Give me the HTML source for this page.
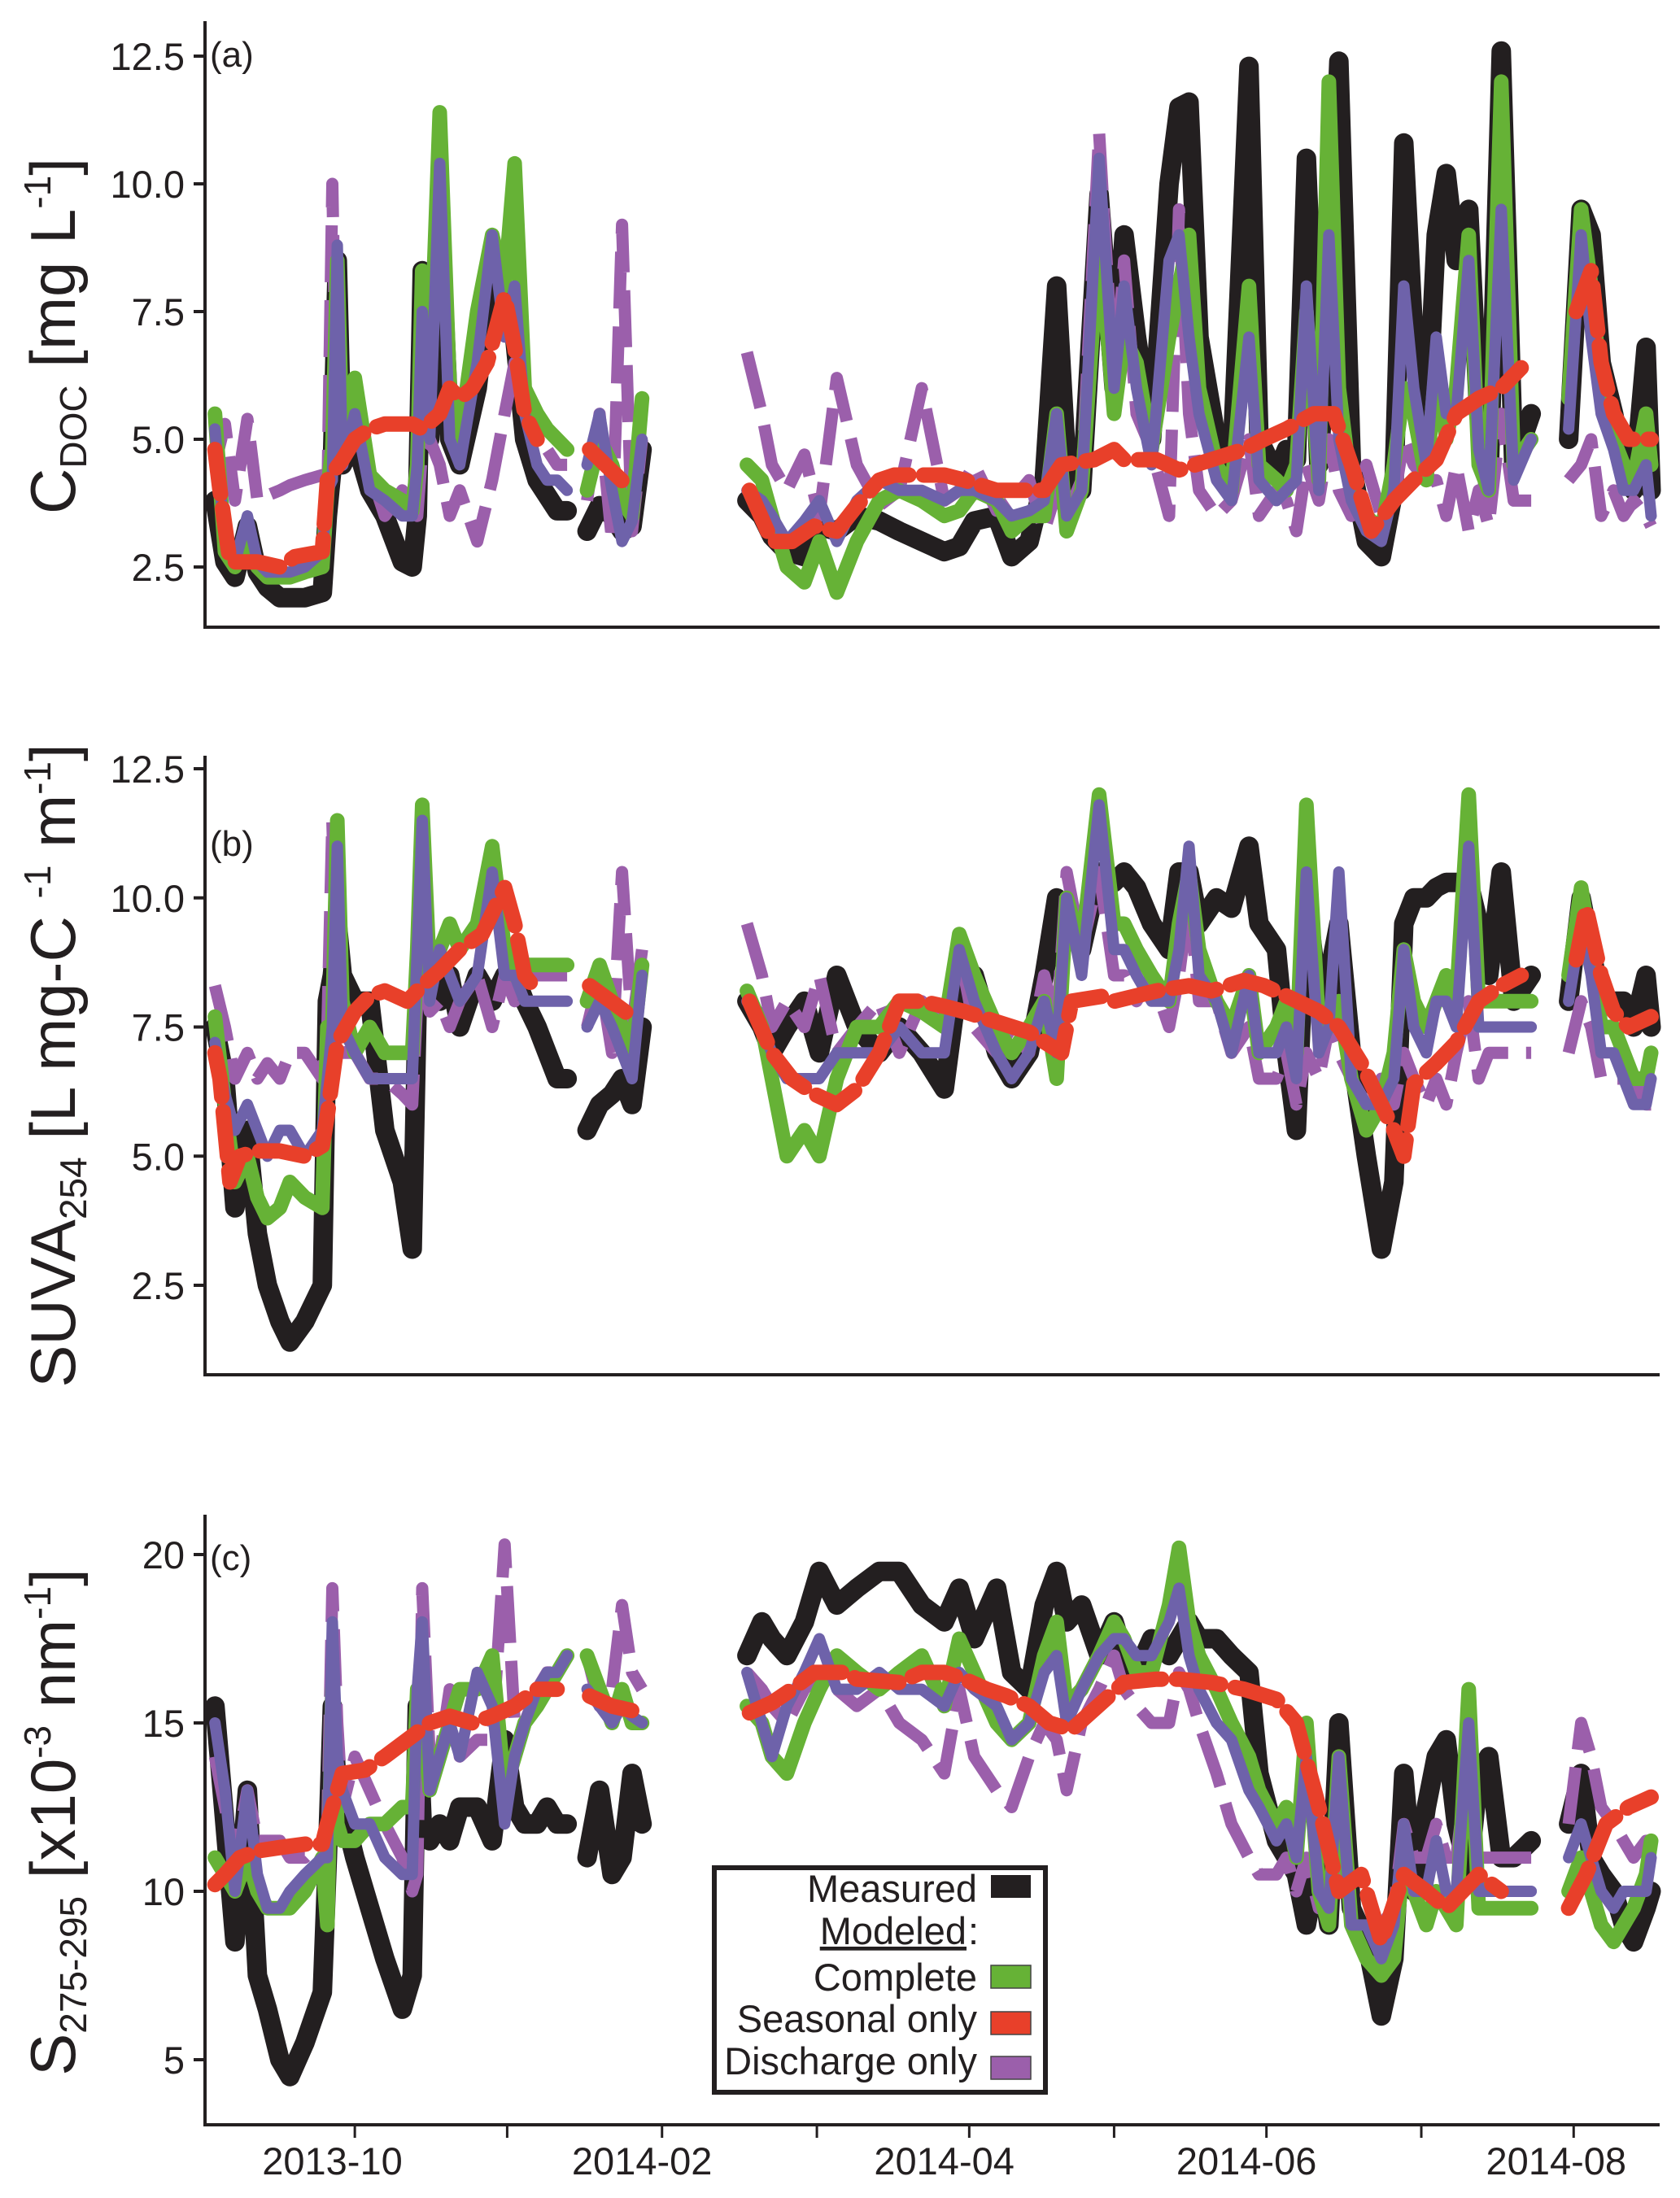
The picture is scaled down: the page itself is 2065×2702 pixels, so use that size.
<!DOCTYPE html>
<html><head><meta charset="utf-8"><style>
body{margin:0;background:#fff}
svg{display:block}
text{font-family:"Liberation Sans",sans-serif;fill:#231f20}
</style></head><body>
<svg id="chart" width="2065" height="2702" viewBox="0 0 2065 2702" xmlns="http://www.w3.org/2000/svg">
<g id="layers"></g>
</svg>
<script>
// shared time axis (days since start), null values mark gaps
const days=[3,7,11,16,20,24,29,33,39,46,48,50,52,54,59,65,71,78,82,84,86,89,93,97,101,108,114,119,123,127,132,136,140,144,148,
152,157,162,166,170,174,195,
216,222,226,232,239,245,252,260,269,277,286,295,301,307,316,322,329,335,340,344,350,357,363,367,372,378,385,389,393,397,404,410,417,421,428,432,436,440,445,449,453,458,464,470,475,479,483,488,492,496,500,505,509,513,518,523,530,538,
545,550,554,558,563,567,571,576,578];
const N=null;
// Panel a: CDOC
const aMeasured=[3.8,2.6,2.3,3.3,2.4,2.1,1.9,1.9,1.9,2.0,3.5,4.5,8.5,4.5,5.0,4.0,3.5,2.6,2.5,3.5,8.3,5,9.5,5,4.5,6,8.5,7.5,7,5,4.2,3.9,3.6,3.6,N,
3.2,3.7,3.5,3.2,3.3,4.8,N,
3.8,3.5,3.1,2.8,2.7,3.3,3.2,3.5,3.4,3.2,3.0,2.8,2.9,3.4,3.5,2.7,3.0,4.2,8.0,4.5,4.0,9.8,6.0,9.0,7.0,5.0,10,11.5,11.6,7.0,5.0,4.4,12.3,5.0,4.3,4.8,4.6,10.5,4.5,7.5,12.4,4.5,3.0,2.7,4,10.8,7,5,9,10.2,8.5,9.5,5.5,4.0,12.6,4.5,5.5,N,
5,9.5,9,6.5,5.5,4.5,4.0,6.8,4];
const aComplete=[5.5,2.8,2.5,3.0,2.5,2.3,2.3,2.3,2.4,2.5,4.0,4.8,8.5,5,6.2,4.3,4.0,3.8,3.6,4.5,8.3,6,11.4,6,5,7.5,9,8,10.4,6,5.5,5.2,5.0,4.8,N,
4.0,5.0,4.5,3.8,3.5,5.8,N,
4.5,4.2,3.5,2.5,2.2,3.0,2.0,3.0,3.8,4.0,3.8,3.5,3.6,4.0,3.8,3.2,3.5,3.5,5.5,3.2,4.0,9.0,5.5,7.0,6.5,4.8,7,8,9,6,4.5,4.0,8,4.5,4.2,4.0,4.5,7.5,4.2,12.0,6,4.0,3.5,3.2,4.5,6,5.5,4.2,6.5,5,6,9,4.5,4.0,12.0,4.5,5.0,N,
5.8,9.5,8,6,5,4.5,4.2,5.5,4.5];
const aBlend=[5.2,3.0,2.6,3.5,2.6,2.4,2.4,2.4,2.5,2.8,4.0,4.2,8.8,4.5,5.5,4.0,3.8,3.5,3.5,4.5,7.5,5,10.4,5,4.5,6.5,9,7,8,5.5,4.5,4.2,4.2,4.0,N,
4.5,5.5,4.0,3.0,3.4,5.0,N,
4.0,3.8,3.5,3.0,3.4,3.8,3.0,3.8,4.2,4.0,4.0,3.8,4.0,4.0,3.8,3.5,3.6,3.8,5.5,3.5,4.0,10.5,6,8,6,4.5,8.5,9,7,5.5,4.2,3.8,7,4.2,3.8,4.0,4.2,8,4.0,9,5,3.8,3.2,3.0,4,8,6,4.5,7,5.5,5.5,8.5,4.8,4.0,9.5,4.2,5.0,N,
5.2,9,7,5.5,4.8,4,4.0,4.5,3.5];
const aDischarge=[4.5,5.3,3.8,5.4,3.8,3.9,4.0,4.1,4.2,4.3,3.8,10.0,4.5,4.5,5.5,4.4,3.5,4.0,3.6,3.5,4.8,5,4.5,3.5,4.0,3.0,4.2,5.5,6.5,5.8,5,4.8,4.5,4.5,N,
3.8,5.5,3.0,9.2,3.2,5.0,N,
6.7,5.5,4.5,4.0,4.7,3.5,6.2,4.5,3.7,4.0,6.0,3.8,4.0,4.5,3.6,3.8,4.2,3.2,4.0,3.5,4.2,11.0,6.0,8.5,5.5,4.8,3.5,9.5,5.5,4.0,3.5,3.8,5.0,3.5,4.0,3.8,3.2,4.5,3.8,5.0,4.0,3.5,4.5,3.5,3.8,5.0,4.5,4.2,4.2,3.5,4.5,3.2,4.0,3.3,5.5,3.8,3.8,N,
4.2,4.5,5,3.5,4.0,3.5,3.8,3.5,3.3];
const aSeasDays=[3,5,9,20,29,35,46,48,54,59,65,71,82,86,93,97,101,106,112,119,123,127,132,148,153,170,195,217,226,234,243,252,260,269,275,286,295,303,316,329,335,342,355,363,367,380,389,402,415,423,432,443,451,458,466,475,483,492,500,509,518,526,538,548,554,558,563,569,578];
const aSeasonal=[4.8,4.0,2.6,2.6,2.5,2.7,2.8,4.2,4.6,5.0,5.2,5.3,5.3,5.2,5.5,6.0,5.8,6.0,6.5,7.8,6.8,5.5,5.0,N,4.8,4.0,N,4.0,3.0,3.0,3.3,3.2,3.7,4.2,4.3,4.3,4.3,4.2,4.0,4.0,4.0,4.5,4.6,4.8,4.6,4.6,4.4,4.6,4.8,5.0,5.2,5.5,5.5,4.5,3.2,3.8,4.2,4.6,5.5,5.8,6.0,6.4,N,7.5,8.3,6.5,5.5,5.0,5.0];
// Panel b: SUVA254
const bMeasured=[7.5,6.5,4.0,5.5,3.5,2.5,1.8,1.4,1.8,2.5,8.0,8.5,9.5,8.5,8,8.0,5.5,4.5,3.2,8.0,9.5,8.5,8.0,8.5,7.5,8.5,8.0,8.5,8.5,8.0,7.5,7.0,6.5,6.5,N,
5.5,6.0,6.2,6.5,6.0,7.5,N,
8.0,7.5,7.0,7.5,8.0,7.0,8.5,7.5,7.0,7.5,7.0,6.3,8.5,8.5,7.0,6.5,7.0,8.5,10.0,9.5,9.0,10.5,10.3,10.5,10.2,9.5,9.0,10.5,10.5,9.5,10,9.8,11.0,9.5,9.0,7.0,5.5,10.0,8.0,8.5,9.5,7.0,5.0,3.2,4.5,9.5,10.0,10.0,10.2,10.3,10.3,10.3,9.5,8.5,10.5,8.0,8.5,N,
8.0,10.0,9.0,8.0,8.0,8.0,7.5,8.5,7.5];
const bComplete=[7.7,6.0,4.5,5.0,4.2,3.8,4.0,4.5,4.2,4.0,7.5,7.5,11.5,8,7,7.5,7,7,7,9,11.8,8.5,9,9.5,9,9.5,11,9,8.5,8.7,8.7,8.7,8.7,8.7,N,
8.0,8.7,8.0,7.5,7.0,8.7,N,
8.2,7.5,6.5,5.0,5.5,5.0,6.5,7.5,7.5,8.0,7.8,7.5,9.3,8.5,7.5,7.0,7.5,8.0,6.5,10.0,9.0,12.0,9.5,9.5,9.0,8.5,8.0,9.5,10.5,9.0,8,7.5,8.5,7.0,7.5,8.0,7.0,11.8,7.5,7.5,8.0,6.5,5.5,6.0,7.0,9.0,8.0,7.5,8.0,8.5,8.0,12.0,8.0,8.0,8.0,8.0,8.0,N,
8.5,10.2,9,7.5,7.5,7,6.5,6.5,7];
const bBlend=[7.2,6.2,5.5,6.0,5.5,5.0,5.5,5.5,5.0,5.5,6.5,7.5,11,7.5,7,6.5,6.5,6.5,6.5,9,11.5,8,9,8.5,8,8.5,10.5,8.5,8.5,8,8,8,8,8,N,
7.5,8.0,7.5,7.0,6.5,8.5,N,
8.0,7.5,7.0,6.5,6.5,6.5,7.0,7.0,7.0,7.5,7.0,7.0,9.0,8.0,7.0,6.5,7.0,8.0,7.0,10.0,8.5,11.8,9,9,8.5,8,8,9,11,8.5,8,7,8.5,7,7,7.5,6.5,10.5,7,7.5,10.5,6.5,6.0,6.0,6.5,9,7.5,7,8,8,7.5,11,7.5,7.5,7.5,7.5,7.5,N,
8,9.5,8.5,7,7,6.5,6,6,6.5];
const bDischarge=[8.3,7.5,6.5,7.0,6.5,6.8,6.5,7.0,7.0,6.5,7.5,11.5,8,7,7,6.5,6.5,6.2,6.0,8.0,8.5,7.8,8,7.5,8.0,8.5,7.5,8.5,8.0,8.5,8.5,8.5,8.5,8.5,N,
7.5,8.5,7.0,10.5,7.5,9.0,N,
9.5,8.5,7.5,8.0,7.5,8.5,7.0,7.5,8.0,7.0,8.0,7.5,9.0,7.5,7.0,7.5,7.0,8.5,7.5,10.5,9.0,10.5,8.5,8.5,8.0,8.5,7.5,8.5,10.0,8,8.0,7.0,7.5,6.5,6.5,7.0,6.0,7.0,6.5,7.5,7.0,6.5,6.0,6.5,6.0,7.0,6.5,6.0,6.5,6.0,7.0,8.0,6.5,7.0,7.0,7.0,7.0,N,
7.0,8.0,7.5,6.5,6.5,6.5,6.5,6.0,6.0];
const bSeasDays=[3,5,9,13,20,29,39,46,48,52,59,65,71,80,86,93,101,110,119,123,127,132,148,153,170,195,217,226,234,243,252,260,269,277,286,295,303,316,329,342,346,359,363,380,393,402,415,423,432,445,453,462,470,475,479,483,492,500,509,518,526,538,548,552,558,563,569,578];
const bSeasonal=[7.0,6.5,4.5,5.0,5.1,5.1,5.0,5.2,5.8,7.2,7.8,8.1,8.2,8.0,8.3,8.6,9.0,9.3,10.2,9.5,8.5,8.2,N,8.3,7.7,N,8.0,7.0,6.5,6.2,6.0,6.3,7.0,8.0,8.0,7.9,7.8,7.6,7.4,7.0,8.0,8.1,8.0,8.2,8.3,8.2,8.4,8.3,8.1,7.8,7.5,6.8,6.0,5.5,5.0,6.4,6.8,7.2,8.0,8.3,8.5,N,8.8,9.8,8.5,7.8,7.5,7.7];
// Panel c: S275-295
const cMeasured=[15.5,12,8.5,13,7.5,6.5,5.0,4.5,5.5,7.0,11,15.5,13,12.5,11,9.5,8,6.5,7.5,15.5,12,11.5,12,11.5,12.5,12.5,11.5,14.5,12.5,12.0,12.0,12.5,12.0,12.0,N,
11.0,13.0,10.5,11,13.5,12,N,
17,18,17.5,17,18,19.5,18.5,19,19.5,19.5,18.5,18,19,17.5,19,16.5,16,18.5,19.5,18,18.5,17,18,17,16.5,17.5,17,17.5,18,17.5,17.5,17,16.5,13.5,11.5,11,10.5,9,11,9,15,9.5,8.5,6.3,8,13.5,10,12.5,14,14.5,12,10.5,13.5,14,11,11,11.5,N,
12,13.5,11,10.5,10,9,8.5,9.5,10];
const cComplete=[11,10.5,10,11,10,9.5,9.5,9.5,10,11,9,16,12,11.5,11.5,12,12,12.5,12.5,16,16,13,14,15,16,16,17.0,13,14,15,15.5,16,16.5,17,N,
17,16,15,16,15,15,N,
15.5,15,14,13.5,15,16,17,16.5,16,16.5,17,15.5,17.5,16.5,15,14.5,15,17,18,15.5,16,17,18,17.5,16.5,16.5,18.5,20.2,18,17,16,15,14,13,12,12.5,11,15,10,9,14,9,8,7.5,8,11,10,9,10,9.5,9,16,9.5,9.5,9.5,9.5,9.5,N,
10,11,10,9,8.5,9,9.5,10.5,11.5];
const cBlend=[15,13,10,13,10.5,9.5,9.5,10,10.5,11,11,18,14,13,12,12,11,10.5,10.5,16,18,13,14,15,14,16.5,15.5,12,14,15,16,16.5,16.5,17,N,
16,15.5,15,15.5,15.2,15,N,
16.5,15,14,15.5,16.5,17.5,16,16,16.5,16,16,15.5,16.5,16,15.5,14.5,15,16.5,17,15,16,17,17.5,17.5,17,17,18,19,17,16,15,14.5,13,12.5,11.5,12,11,14,10,9.5,14,9,9,8,9,12,10,10,11.5,10,10,15,10,10,10,10,10,N,
11,12,11,10,9.5,10,10,10,11];
const cDischarge=[14,12.5,11,13,11.5,11.5,11.5,11,11,11.5,12,19,15,12.5,14,13,12,11,10,10.5,19,14,14,16,14,14.5,14.5,20.3,15,15,16,16.5,16.5,17,N,
17,15.5,16,18.5,16.5,16,N,
16.5,16,15.5,15,16,16.5,16,15.5,16,15,14.5,13.5,16,14,13,12.5,14,15,14.5,13,15,16,17,16,15.5,15,15,16.5,16,15,13.5,12,11,10.5,10.5,11,10,11,9.5,9.5,11,9.5,9.5,9,9.5,12,11,11,12,11,11,14,11,11,11,11,11,N,
12,15,14,12.5,12,11.5,11,11.5,11.5];
const cSeasDays=[3,7,13,20,29,39,46,48,54,63,71,80,89,97,106,114,123,132,140,148,153,162,174,195,217,226,234,243,256,260,277,286,295,303,312,320,329,337,346,367,380,389,402,415,428,436,445,453,462,470,479,488,496,509,518,538,545,552,560,569,578];
const cSeasonal=[10.2,10.5,11.0,11.2,11.3,11.4,11.4,12.0,13.5,13.6,14.0,14.5,15.0,15.2,15.0,15.2,15.5,16.0,16.0,N,15.8,15.5,15.3,N,15.3,15.6,16.0,16.5,16.5,16.3,16.2,16.5,16.5,16.3,16.0,15.8,15.5,15.0,14.8,16.2,16.3,16.3,16.2,16.0,15.7,15.0,12.5,10.0,10.5,8.5,10.5,10.0,9.5,10.5,10.0,N,9.5,10.5,12.0,12.5,12.8];
const yTicksA=[2.5,5.0,7.5,10.0,12.5], yTicksB=[2.5,5.0,7.5,10.0,12.5], yTicksC=[5,10,15,20];
const xTickDays=[59,120,182,244,305,363,424,486,547];
const xLabelDays=[50,174,295,416,540];
const xLabels=["2013-10","2014-02","2014-04","2014-06","2014-08"];

const NS="http://www.w3.org/2000/svg";
const root=document.getElementById('layers');
const X=d=>255+d*3.07;
function mk(tag,attrs,parent){const e=document.createElementNS(NS,tag);for(const k in attrs)e.setAttribute(k,attrs[k]);(parent||root).appendChild(e);return e;}
function pathD(ds,vs,Y){let d="",pen=false;for(let i=0;i<ds.length;i++){const v=vs[i];if(v===null||v===undefined){pen=false;continue;}d+=(pen?"L":"M")+X(ds[i]).toFixed(1)+" "+Y(v).toFixed(1);pen=true;}return d;}
const panels=[
 {id:'a',Y:v=>697-(v-2.5)*62.8,top:26,bot:771,ticks:yTicksA,fmt:v=>v.toFixed(1),s:[aMeasured,aComplete,aBlend,aDischarge],sd:aSeasDays,sv:aSeasonal},
 {id:'b',Y:v=>1580-(v-2.5)*63.5,top:929,bot:1690,ticks:yTicksB,fmt:v=>v.toFixed(1),s:[bMeasured,bComplete,bBlend,bDischarge],sd:bSeasDays,sv:bSeasonal},
 {id:'c',Y:v=>2532-(v-5)*41.4,top:1862,bot:2612,ticks:yTicksC,fmt:v=>String(v),s:[cMeasured,cComplete,cBlend,cDischarge],sd:cSeasDays,sv:cSeasonal}
];
panels.forEach(p=>{
  const g=mk('g',{});
  
  
  const styles=[
    {i:0,c:'#231f20',w:24,da:null,n:'measured-series'},
    {i:3,c:'#9b5fab',w:15,da:'70 22',n:'discharge-only-series'},
    {i:1,c:'#66b236',w:18,da:null,n:'complete-series'},
    {i:2,c:'#6e62aa',w:14,da:null,n:'complete-discharge-blend-series'}
  ];
  styles.forEach(st=>{
    const e=mk('path',{d:pathD(days,p.s[st.i],p.Y),fill:'none',stroke:st.c,'stroke-width':st.w,'stroke-linejoin':'round','stroke-linecap':st.da?'butt':'round'},g);
    if(st.da)e.setAttribute('stroke-dasharray',st.da);
    
    
  });
  const r=mk('path',{d:pathD(p.sd,p.sv,p.Y),fill:'none',stroke:'#e8402a','stroke-width':19,'stroke-dasharray':'55 18','stroke-linecap':'round','stroke-linejoin':'round'},g);
  
  
  const ax=mk('path',{d:`M252 ${p.top}V${p.bot}H2040`,fill:'none',stroke:'#231f20','stroke-width':4},g);
  
  
  p.ticks.forEach(v=>{
    const y=p.Y(v);
    const t=mk('line',{x1:238,x2:252,y1:y,y2:y,stroke:'#231f20','stroke-width':4},g);
    
    
    const l=mk('text',{x:227,y:y+17,'text-anchor':'end','font-size':47},g);
    l.textContent=p.fmt(v);
    
    
  });
  const pl=mk('text',{x:258,y:p.id==='b'?1052:(p.id==='a'?82:1930),'font-size':44},g);
  pl.textContent='('+p.id+')';
  
  
});
xTickDays.forEach(d=>{
  const t=mk('line',{x1:X(d),x2:X(d),y1:2612,y2:2628,stroke:'#231f20','stroke-width':3});
  
  
});
xLabelDays.forEach((d,i)=>{
  const t=mk('text',{x:X(d),y:2673,'text-anchor':'middle','font-size':47});
  t.textContent=xLabels[i];
  
  
});
</script>
<div style="position:absolute;left:0;top:0;width:2065px;height:2702px;pointer-events:none">
<svg width="2065" height="2702" style="position:absolute;left:0;top:0">
<g transform="translate(92,413) rotate(-90)"><text text-anchor="middle" font-size="78" font-family="Liberation Sans, sans-serif" fill="#231f20">C<tspan font-size="46" dy="14">DOC</tspan><tspan dy="-14"> [mg L</tspan><tspan font-size="46" dy="-30">-1</tspan><tspan dy="30">]</tspan></text></g>
<g transform="translate(92,1310) rotate(-90)"><text text-anchor="middle" font-size="78" font-family="Liberation Sans, sans-serif" fill="#231f20">SUVA<tspan font-size="46" dy="14">254</tspan><tspan dy="-14"> [L mg-C </tspan><tspan font-size="46" dy="-30">-1</tspan><tspan dy="30"> m</tspan><tspan font-size="46" dy="-30">-1</tspan><tspan dy="30">]</tspan></text></g>
<g transform="translate(92,2240) rotate(-90)"><text text-anchor="middle" font-size="78" font-family="Liberation Sans, sans-serif" fill="#231f20">S<tspan font-size="46" dy="14">275-295</tspan><tspan dy="-14"> [x10</tspan><tspan font-size="46" dy="-30">-3</tspan><tspan dy="30"> nm</tspan><tspan font-size="46" dy="-30">-1</tspan><tspan dy="30">]</tspan></text></g>
<g font-family="Liberation Sans, sans-serif" font-size="47">
<rect x="878" y="2296" width="407" height="276" fill="#fff" stroke="#231f20" stroke-width="6"/>
<text x="1201" y="2338" text-anchor="end" fill="#000">Measured</text>
<rect x="1218" y="2305" width="49" height="28" fill="#231f20"/>
<text x="1188" y="2390" text-anchor="end" fill="#231f20" text-decoration="underline">Modeled</text><text x="1190" y="2390" fill="#231f20">:</text>
<text x="1201" y="2447" text-anchor="end" fill="#000">Complete</text>
<rect x="1218" y="2416" width="49" height="28" fill="#66b236" stroke="#444" stroke-width="1.5"/>
<text x="1201" y="2498" text-anchor="end" fill="#000">Seasonal only</text>
<rect x="1218" y="2473" width="49" height="28" fill="#e8402a" stroke="#444" stroke-width="1.5"/>
<text x="1201" y="2550" text-anchor="end" fill="#000">Discharge only</text>
<rect x="1218" y="2528" width="49" height="28" fill="#9b5fab" stroke="#444" stroke-width="1.5"/>
</g>
</svg>
</div>
</body></html>
